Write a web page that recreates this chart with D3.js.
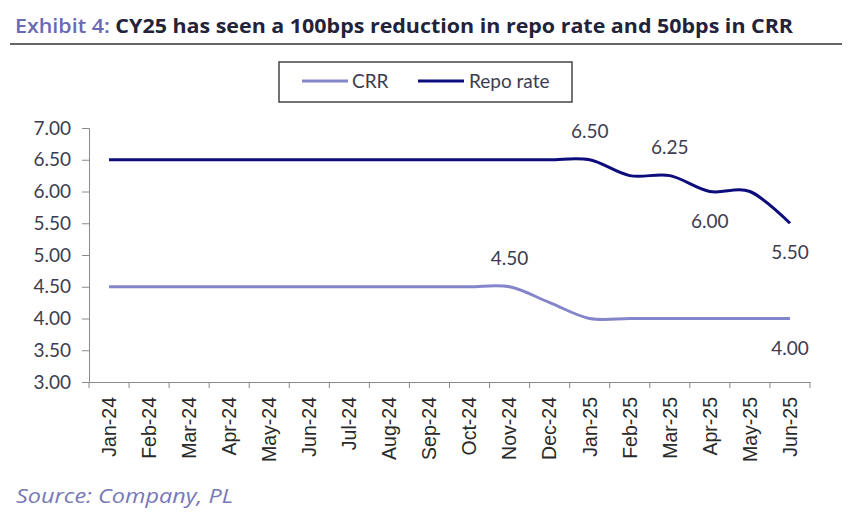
<!DOCTYPE html>
<html><head><meta charset="utf-8">
<script src="https://cdn.jsdelivr.net/npm/d3@7"></script>
<style>body{margin:0;background:#fff;} svg{display:block;}</style>
</head><body>
<script>
const categories = ["Jan-24","Feb-24","Mar-24","Apr-24","May-24","Jun-24","Jul-24","Aug-24","Sep-24","Oct-24","Nov-24","Dec-24","Jan-25","Feb-25","Mar-25","Apr-25","May-25","Jun-25"];
const crr  = [4.5,4.5,4.5,4.5,4.5,4.5,4.5,4.5,4.5,4.5,4.5,4.25,4.0,4.0,4.0,4.0,4.0,4.0];
const repo = [6.5,6.5,6.5,6.5,6.5,6.5,6.5,6.5,6.5,6.5,6.5,6.5,6.5,6.25,6.25,6.0,6.0,5.5];
const yTicks = [3.0,3.5,4.0,4.5,5.0,5.5,6.0,6.5,7.0];
// labelled points: [category index, position]
const repoLabels = [[12,"above"],[14,"above"],[15,"below"],[17,"below"]];
const crrLabels = [[10,"above"],[17,"below"]];

const W=866,H=513;
const svg=d3.select("body").append("svg").attr("width",W).attr("height",H);
const geo="'Lato','Noto Sans',sans-serif";
const txt="#3c3c50";

// title
const t=svg.append("text").attr("x",15).attr("y",33).attr("font-family","'Open Sans','Noto Sans',sans-serif")
  .attr("font-weight","700").attr("font-size",20).attr("textLength",778).attr("lengthAdjust","spacingAndGlyphs");
t.append("tspan").attr("fill","#6a6ab4").attr("font-weight","600").text("Exhibit 4: ");
t.append("tspan").attr("fill","#22223a").text("CY25 has seen a 100bps reduction in repo rate and 50bps in CRR");
svg.append("line").attr("x1",10).attr("x2",842).attr("y1",44).attr("y2",44).attr("stroke","#333").attr("stroke-width",1.5);

const x=d3.scaleBand().domain(categories).range([89,810]);
const y=d3.scaleLinear().domain([3,7]).range([382,128]);

// y axis
const ya=svg.append("g").attr("transform","translate(89,0)")
  .call(d3.axisLeft(y).tickValues(yTicks).tickFormat(d3.format(".2f")).tickSize(7).tickPadding(11));
ya.select(".domain").attr("stroke","#8a8a8a");
ya.selectAll(".tick line").attr("stroke","#8a8a8a");
ya.selectAll("text").attr("font-family",geo).attr("font-size",19).attr("fill",txt);

// x axis
const xa=svg.append("g").attr("transform","translate(0,382)")
  .call(d3.axisBottom(x).tickSize(0).tickPadding(0));
xa.select(".domain").attr("stroke","#8a8a8a");
xa.selectAll(".tick text").attr("font-family","'Liberation Sans',Arial,sans-serif").attr("font-size",19.5).attr("fill","#2a2a2a")
  .attr("transform","translate(0,15) rotate(-90)").attr("text-anchor","end").attr("dy","0.35em").attr("x",0).attr("y",0);
const bounds=categories.map(c=>x(c)).concat([x.range()[1]]);
svg.append("g").selectAll("line").data(bounds).join("line")
  .attr("x1",d=>d).attr("x2",d=>d).attr("y1",382).attr("y2",388).attr("stroke","#8a8a8a");

const cx=(i)=>x(categories[i])+x.bandwidth()/2;
const line=d3.line().x((d,i)=>cx(i)).y(d=>y(d)).curve(d3.curveCardinal.tension(0));
svg.append("path").attr("d",line(crr)).attr("fill","none").attr("stroke","#8585cc").attr("stroke-width",3);
svg.append("path").attr("d",line(repo)).attr("fill","none").attr("stroke","#0c0c7c").attr("stroke-width",3);

function labels(data,arr){
  svg.append("g").selectAll("text").data(arr).join("text")
    .attr("x",d=>cx(d[0])).attr("y",d=>y(data[d[0]])+(d[1]==="above"?-22:36))
    .attr("text-anchor","middle").attr("font-family",geo).attr("font-size",19).attr("fill",txt)
    .text(d=>data[d[0]].toFixed(2));
}
labels(repo,repoLabels);
labels(crr,crrLabels);

// legend
const lg=svg.append("g");
lg.append("rect").attr("x",279).attr("y",62).attr("width",293).attr("height",40).attr("fill","#fff").attr("stroke","#444").attr("stroke-width",1.5);
lg.append("line").attr("x1",302).attr("x2",348).attr("y1",81).attr("y2",81).attr("stroke","#8585cc").attr("stroke-width",3);
lg.append("text").attr("x",352).attr("y",88).attr("font-family",geo).attr("font-size",19).attr("fill",txt).text("CRR");
lg.append("line").attr("x1",418).attr("x2",464).attr("y1",81).attr("y2",81).attr("stroke","#0c0c7c").attr("stroke-width",3);
lg.append("text").attr("x",469).attr("y",88).attr("font-family",geo).attr("font-size",19).attr("fill",txt).text("Repo rate");

// source
svg.append("text").attr("x",16).attr("y",503).attr("font-family","'Open Sans','Noto Sans',sans-serif").attr("font-style","italic").attr("font-size",20)
  .attr("textLength",217).attr("lengthAdjust","spacingAndGlyphs")
  .attr("fill","#7878b8").text("Source: Company, PL");
</script>
</body></html>
